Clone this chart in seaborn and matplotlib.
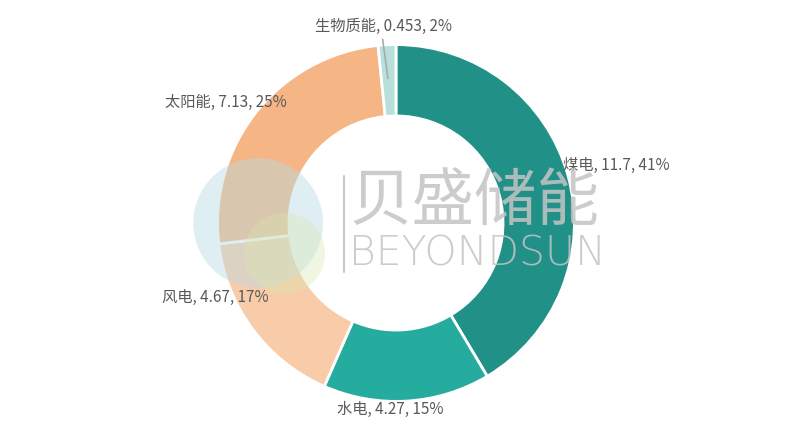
import matplotlib
matplotlib.use("Agg")
import matplotlib.pyplot as plt
import seaborn as sns
import numpy as np
from matplotlib.patches import Circle

# data
sources = ["煤电", "水电", "风电", "太阳能", "生物质能"]
values = [11.7, 4.27, 4.67, 7.13, 0.453]
colors = ["#219188", "#26ab9f", "#f8cca9", "#f5b584", "#b7e0da"]

sns.set_theme(style="white")
plt.rcParams['font.family'] = ['Noto Sans CJK SC', 'DejaVu Sans']

fig = plt.figure(figsize=(7.92, 4.46), dpi=100)
ax = fig.add_axes([0, 0, 1, 1])
ax.set_xlim(-396 / 176, 396 / 176)
ax.set_ylim(-224 / 176, 222 / 176)
ax.axis("off")

ax.pie(values, colors=colors, startangle=90, counterclock=False, radius=1,
       wedgeprops=dict(width=0.4, edgecolor="white", linewidth=2))

total = sum(values)
pcts = [round(v / total * 100) for v in values]
labels = [f"{s}, {v}, {p}%" for s, v, p in zip(sources, values, pcts)]

# label placement (x, y, ha)
label_pos = [(0.935, 0.325, "left"), (-0.03, -1.045, "center"),
             (-0.715, -0.42, "right"), (-0.615, 0.675, "right"),
             (-0.07, 1.10, "center")]
for lab, (x, y, ha) in zip(labels, label_pos):
    ax.text(x, y, lab, ha=ha, va="center", fontsize=11, color="#595959")
ax.plot([-0.045, -0.075], [0.81, 1.03], color="#aaaaaa", lw=1.2)

# watermark
ax.add_patch(Circle((-136 / 176, 0), 64 / 176, facecolor="#b9dbe3", alpha=0.45,
                    edgecolor="none", zorder=5))
ax.add_patch(Circle((-110 / 176, -30 / 176), 40 / 176, facecolor="#d9e8b0", alpha=0.35,
                    edgecolor="none", zorder=5))
ax.plot([-51 / 176, -51 / 176], [46 / 176, -48 / 176], color="#c8c8c8", lw=1.5, zorder=6)
ax.text(-46 / 176, 20 / 176, "贝盛储能", fontsize=45, color="#c4c4c4", alpha=0.85,
        ha="left", va="center", zorder=6)
ax.text(-46 / 176, -31 / 176, "BEYONDSUN", fontsize=29.5, color="#c4c4c4", alpha=0.85,
        ha="left", va="center", family="DejaVu Sans", fontweight="light", zorder=6)

fig.savefig("out.png", dpi=100)
